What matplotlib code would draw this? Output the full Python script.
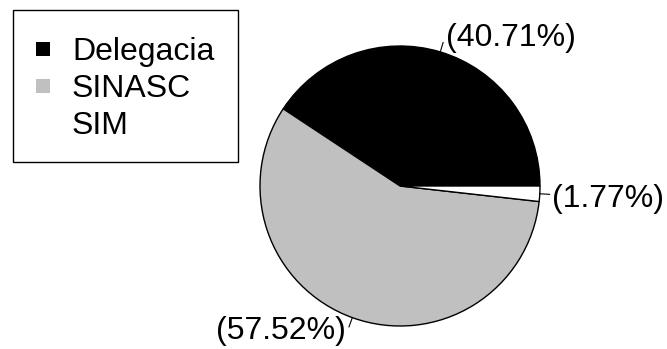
import matplotlib
matplotlib.use("Agg")
import matplotlib.pyplot as plt
from matplotlib.patches import Rectangle
import numpy as np

categories = ["Delegacia", "SINASC", "SIM"]
values = [40.71, 57.52, 1.77]
labels = ["(40.71%)", "(57.52%)", "(1.77%)"]
colors = ["#000000", "#c0c0c0", "#ffffff"]

plt.rcParams['font.family'] = ['Liberation Sans', 'DejaVu Sans']

W, H = 667, 349
fig = plt.figure(figsize=(W / 100, H / 100), dpi=100)
cx, cy, r = 400, 186, 140
ax = fig.add_axes([(cx - r) / W, (H - cy - r) / H, 2 * r / W, 2 * r / H])
wedges, _ = ax.pie(values, colors=colors, startangle=0, counterclock=True,
                   wedgeprops=dict(edgecolor='black', linewidth=1.0))
ax.set_xlim(-1, 1)
ax.set_ylim(-1, 1)
ax.set_aspect('equal')
ax.axis('off')

total = sum(values)
start = 0.0
for v, lab in zip(values, labels):
    mid = np.deg2rad(start + v / total * 360 / 2)
    start += v / total * 360
    c, s = np.cos(mid), np.sin(mid)
    x0, y0 = c * 1.0, s * 1.0
    x1, y1 = c * 1.07, s * 1.07
    ax.plot([x0, x1], [y0, y1], color='black', lw=0.8, clip_on=False)
    ha = 'left' if c >= 0 else 'right'
    ax.text(x1 + (0.02 if c >= 0 else -0.02), y1 + 0.03 * np.sign(s), lab,
            ha=ha, va='center', fontsize=23, clip_on=False)

# legend drawn in pixel coordinates (converted to figure fraction)
def fx(px):
    return px / W

def fy(py):
    return 1 - py / H

fig.patches.append(Rectangle((fx(13), fy(162)), fx(238) - fx(13), fy(10) - fy(162),
                             transform=fig.transFigure, facecolor='white',
                             edgecolor='black', linewidth=1.0, zorder=5))
fs = 23
cap = 0.716 * fs * 100 / 72
for i, (cat, col) in enumerate(zip(categories, colors)):
    yc = 49 + 37 * i
    fig.patches.append(Rectangle((fx(36), fy(yc + 7)), fx(14), 14 / H,
                                 transform=fig.transFigure, facecolor=col,
                                 edgecolor='none', zorder=6))
    fig.text(fx(72), fy(yc + cap / 2), cat, fontsize=fs, ha='left',
             va='baseline', zorder=7)

fig.savefig("out.png", dpi=100)
